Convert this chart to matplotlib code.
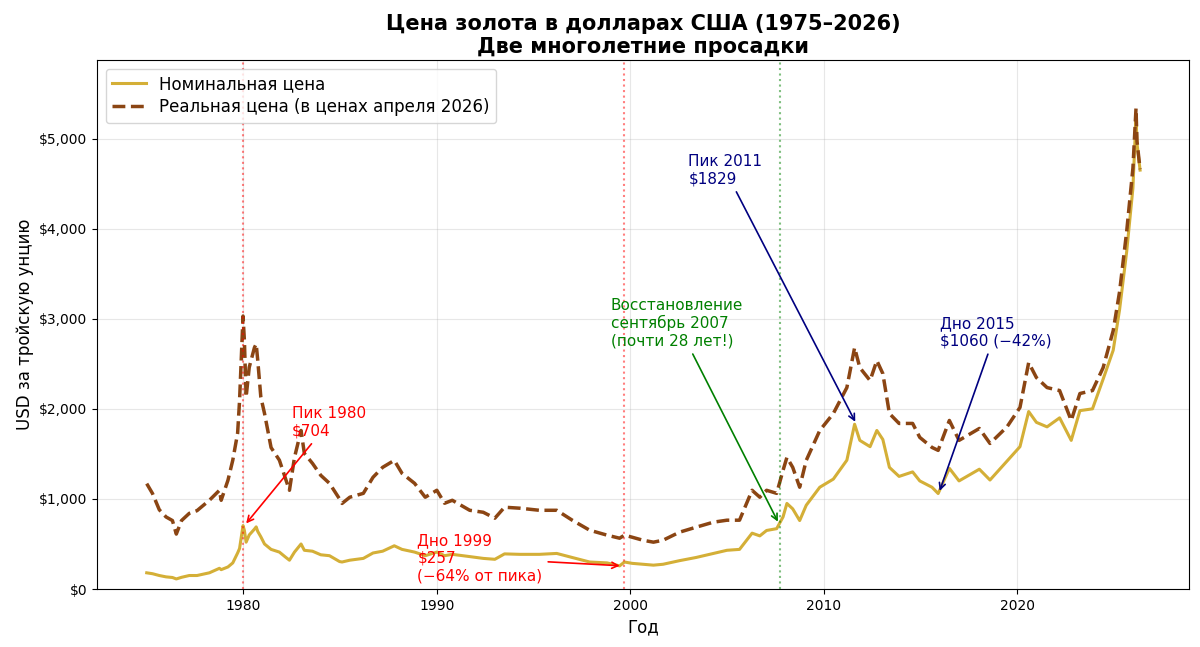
import matplotlib
matplotlib.use("Agg")
import matplotlib.pyplot as plt
from matplotlib.ticker import FuncFormatter

years = [1975.0, 1975.3, 1975.65, 1976.0, 1976.33, 1976.53, 1976.8, 1977.2, 1977.6, 1978.24,
         1978.76, 1978.85, 1979.2, 1979.45, 1979.7, 1979.8, 1979.98, 1980.05, 1980.14, 1980.3,
         1980.57, 1980.66, 1980.74, 1980.9, 1981.09, 1981.43, 1981.86, 1982.2, 1982.38, 1982.64,
         1982.98, 1983.15, 1983.57, 1984.0, 1984.45, 1984.97, 1985.1, 1985.5, 1986.2, 1986.7,
         1987.2, 1987.8, 1988.2, 1988.85, 1989.4, 1990.0, 1990.4, 1990.8, 1991.7, 1992.4,
         1993.0, 1993.5, 1994.3, 1995.3, 1996.2, 1997.0, 1997.9, 1998.8, 1999.45, 1999.7,
         2000.1, 2000.65, 2001.2, 2001.7, 2002.55, 2003.4, 2004.3, 2005.0, 2005.65, 2006.3,
         2006.7, 2007.05, 2007.57, 2007.9, 2008.1, 2008.4, 2008.76, 2009.1, 2009.8, 2010.5,
         2011.2, 2011.6, 2011.87, 2012.4, 2012.75, 2013.06, 2013.4, 2013.9, 2014.6, 2014.97,
         2015.6, 2015.92, 2016.5, 2017.0, 2018.05, 2018.6, 2019.48, 2020.15, 2020.6, 2021.0,
         2021.55, 2022.2, 2022.8, 2023.25, 2023.9, 2024.45, 2024.97, 2025.3, 2025.67, 2025.99,
         2026.15, 2026.2, 2026.36]

nominal = [180, 170, 150, 135, 128, 112, 130, 150, 150, 180,
           230, 215, 245, 290, 400, 450, 704, 650, 520, 600,
           665, 690, 640, 580, 500, 440, 410, 350, 320, 410,
           500, 430, 420, 380, 370, 305, 300, 320, 340, 400,
           420, 480, 440, 410, 370, 410, 370, 385, 360, 340,
           330, 390, 385, 385, 395, 350, 300, 290, 257, 300,
           285, 275, 265, 275, 315, 350, 395, 430, 440, 620,
           590, 650, 670, 800, 950, 890, 760, 930, 1130, 1220,
           1430, 1829, 1650, 1580, 1760, 1660, 1350, 1250, 1300, 1200,
           1130, 1060, 1340, 1200, 1330, 1210, 1420, 1580, 1970, 1850,
           1800, 1900, 1650, 1980, 2000, 2330, 2650, 3100, 3750, 4450,
           5250, 4950, 4650]

real = [1170, 1060, 880, 800, 760, 610, 760, 840, 870, 985,
        1096, 985, 1207, 1430, 1730, 2090, 3030, 2760, 2130, 2460,
        2680, 2720, 2540, 2130, 1950, 1570, 1430, 1210, 1096, 1460,
        1760, 1505, 1395, 1262, 1173, 1000, 950, 1019, 1062, 1240,
        1351, 1428, 1284, 1173, 1019, 1096, 952, 985, 874, 852,
        786, 908, 897, 874, 874, 764, 653, 598, 564, 598,
        575, 542, 520, 542, 631, 686, 742, 764, 764, 1096,
        1019, 1096, 1062, 1317, 1461, 1351, 1130, 1428, 1760, 1948,
        2236, 2679, 2457, 2314, 2535, 2391, 1948, 1838, 1838, 1683,
        1572, 1539, 1871, 1650, 1782, 1616, 1800, 2015, 2513, 2347,
        2236, 2203, 1871, 2170, 2203, 2457, 2867, 3300, 3974, 4672,
        5336, 4970, 4660]

fig = plt.figure(figsize=(12, 6.47), dpi=100)
ax = fig.add_axes([0.081, 0.0896, 0.91, 0.8174])

ax.plot(years, nominal, color="#D4AF37", lw=2.2, label="Номинальная цена")
ax.plot(years, real, color="#8B4513", lw=2.5, ls="--", label="Реальная цена (в ценах апреля 2026)")

ax.axvline(1980.0, color="red", ls=":", lw=1.5, alpha=0.5)
ax.axvline(1999.67, color="red", ls=":", lw=1.5, alpha=0.5)
ax.axvline(2007.75, color="green", ls=":", lw=1.5, alpha=0.5)

ax.annotate("Пик 1980\n$704", xy=(1980.05, 704), xytext=(1982.5, 1700),
            color="red", fontsize=11,
            arrowprops=dict(arrowstyle="->", color="red", lw=1.2))
ax.annotate("Дно 1999\n$257\n(−64% от пика)", xy=(1999.6, 257), xytext=(1989, 100),
            color="red", fontsize=11,
            arrowprops=dict(arrowstyle="->", color="red", lw=1.2))
ax.annotate("Восстановление\nсентябрь 2007\n(почти 28 лет!)", xy=(2007.7, 720), xytext=(1999, 2700),
            color="green", fontsize=11,
            arrowprops=dict(arrowstyle="->", color="green", lw=1.2))
ax.annotate("Пик 2011\n$1829", xy=(2011.7, 1829), xytext=(2003, 4500),
            color="navy", fontsize=11,
            arrowprops=dict(arrowstyle="->", color="navy", lw=1.2))
ax.annotate("Дно 2015\n$1060 (−42%)", xy=(2015.95, 1060), xytext=(2016, 2700),
            color="navy", fontsize=11,
            arrowprops=dict(arrowstyle="->", color="navy", lw=1.2))

ax.set_xlim(1972.44, 2028.9)
ax.set_ylim(0, 5870)
ax.set_xticks([1980, 1990, 2000, 2010, 2020])
ax.set_yticks([0, 1000, 2000, 3000, 4000, 5000])
ax.yaxis.set_major_formatter(FuncFormatter(lambda v, p: f"${v:,.0f}"))
ax.tick_params(labelsize=10)
ax.grid(True, alpha=0.3)
ax.set_xlabel("Год", fontsize=12)
ax.set_ylabel("USD за тройскую унцию", fontsize=12)
ax.set_title("Цена золота в долларах США (1975–2026)\nДве многолетние просадки",
             fontsize=15, fontweight="bold", pad=5)
ax.legend(loc="upper left", fontsize=12, labelspacing=0.3)

fig.savefig("out.png", dpi=100)
